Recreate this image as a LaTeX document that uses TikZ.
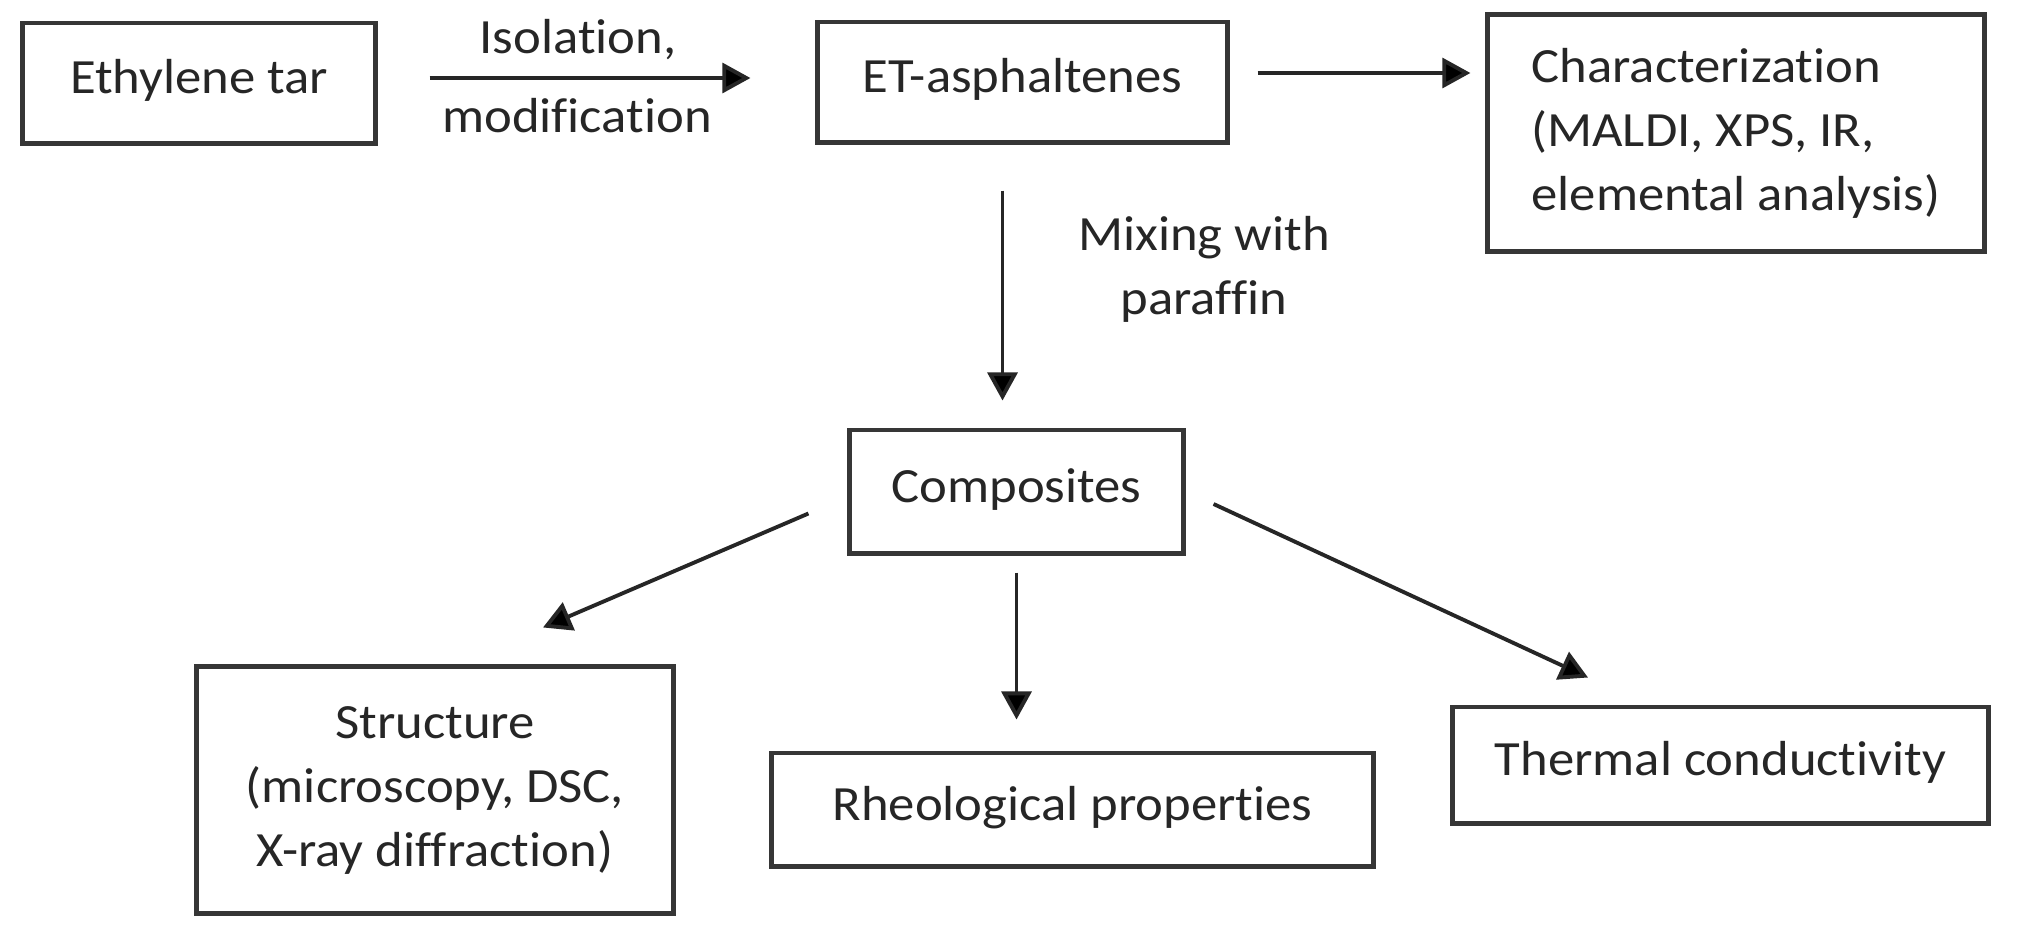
\documentclass[tikz,border=0pt]{standalone}
\usepackage{fontspec}
\setmainfont{Carlito}[FakeStretch=1.07, Ligatures={NoCommon}]
\usetikzlibrary{arrows.meta,calc}
\definecolor{ink}{HTML}{262626}
\definecolor{frame}{HTML}{363636}
\tikzset{
  every node/.style={font=\fontsize{14}{18.2}\selectfont, text=ink},
  box/.style={draw=frame, line width=1.4pt, inner sep=0pt},
  one/.style={text height=10pt, text depth=4pt},
  lbl/.style={inner sep=0pt},
  arr/.style={draw=black!85, line width=1.1pt, -{Triangle[length=8pt,width=8.5pt,fill=black]}}
}
\begin{document}
\begin{tikzpicture}[x=0.01cm, y=-0.01cm]
\useasboundingbox[fill=white] (0,0) rectangle (2019,936);
% boxes
\node[box, one, minimum width=3.52cm, minimum height=1.20cm] (et) at (199,83) {Ethylene tar};
\node[box, one, minimum width=4.09cm, minimum height=1.20cm] (asp) at (1022.5,82) {ET-asphaltenes};
\node[box, minimum width=4.96cm, minimum height=2.36cm, align=left] (char) at (1736,133)
  {Characterization\\(MALDI, XPS, IR,\\elemental analysis)};
\node[box, one, minimum width=3.33cm, minimum height=1.23cm] (comp) at (1016.5,491.5) {Composites};
\node[box, minimum width=4.76cm, minimum height=2.46cm, align=center] (struct) at (435,790)
  {Structure\\(microscopy, DSC,\\X-ray diffraction)};
\node[box, one, minimum width=6.01cm, minimum height=1.13cm] (rheo) at (1072.5,809.5) {Rheological properties\hspace{0.42cm}};
\node[box, one, minimum width=5.35cm, minimum height=1.16cm] (therm) at (1720.5,765) {Thermal conductivity};
% labels
\node[lbl, one, anchor=base] (l1) at (578,53) {Isolation,};
\node[lbl, one, anchor=base] (l2) at (577,132) {modification};
\node[lbl, align=center] (l3) at (1204,269) {Mixing with\\paraffin};
% connectors
\draw[arr] ($(et.east)+(52,-5)$) -- ($(et.east -| asp.west)+(-65,-5)$);
\draw[arr] ($(asp.east)+(28,-9)$) -- ($(asp.east -| char.west)+(-15,-9)$);
\draw[arr] ($(asp.south)+(-20,46)$) -- ($(asp.south |- comp.north)+(-20,-27)$);
\draw[arr] ($(comp.south west)+(-39,-42)$) -- ($(struct.north)+(108,-37)$);
\draw[arr] ($(comp.south)+(0,17)$) -- ($(comp.south |- rheo.north)+(0,-31)$);
\draw[arr] ($(comp.east)+(28,12.5)$) -- ($(therm.north)+(-132.5,-27)$);
\end{tikzpicture}
\end{document}
